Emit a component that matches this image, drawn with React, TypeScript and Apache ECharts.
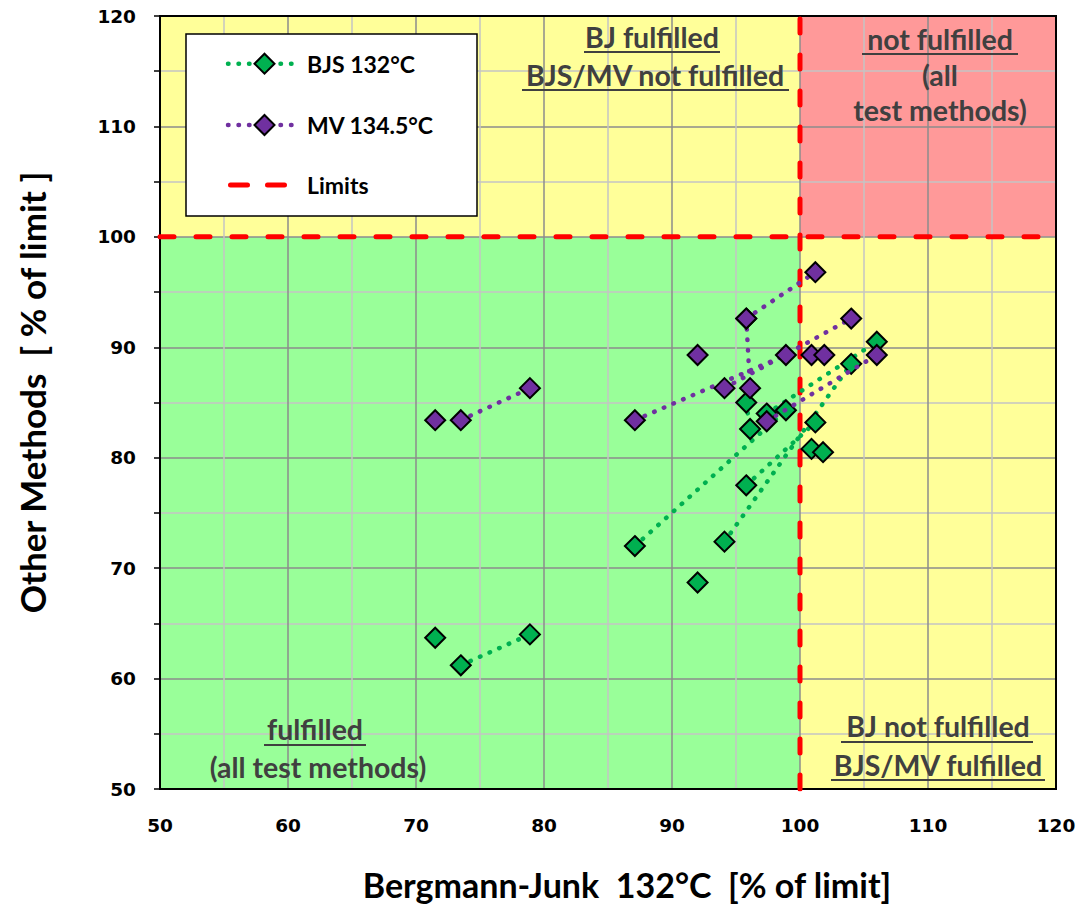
import React, { useEffect, useRef } from "react";
import * as echarts from "echarts";

// ---- data ----
const xRange = [50, 120];
const yRange = [50, 120];
const limitValue = 100;

// BJS 132°C: pairs of connected points (x = Bergmann-Junk, y = other method)
const bjsSegments: number[][][] = [
  [[71.5, 63.7]],
  [[73.5, 61.2], [78.9, 64.0]],
  [[87.1, 72.0], [98.9, 84.3]],
  [[92.0, 68.7]],
  [[94.1, 72.4], [104.0, 88.5]],
  [[95.8, 77.5], [101.2, 83.2]],
  [[95.8, 85.0], [96.1, 82.6]],
  [[97.4, 84.0], [106.0, 90.5]],
  [[100.9, 80.8]],
  [[101.8, 80.5]],
];

// MV 134.5°C
const mvSegments: number[][][] = [
  [[71.5, 83.4]],
  [[73.5, 83.4], [78.9, 86.3]],
  [[87.1, 83.4], [98.9, 89.3]],
  [[92.0, 89.3]],
  [[94.1, 86.3], [104.0, 92.6]],
  [[95.8, 92.6], [101.2, 96.8]],
  [[95.8, 92.6], [96.1, 86.3]],
  [[97.4, 83.3], [106.0, 89.3]],
  [[100.9, 89.3]],
  [[101.9, 89.3]],
];

const seriesNames = ["BJS 132°C", "MV 134.5°C", "Limits"];
const axisTitles = {
  x: "Bergmann-Junk  132°C  [% of limit]",
  y: "Other Methods  [ % of limit ]",
};

const GREEN = "#00B050";
const PURPLE = "#7030A0";
const RED = "#FF0000";

function flatten(segs: number[][][]) {
  const out: any[] = [];
  segs.forEach((s, i) => {
    if (i > 0) out.push(["-", "-"]);
    s.forEach((p) => out.push(p));
  });
  return out;
}

const labelFont = "Lato";
const tickFont = "DejaVu Sans";
const dotted = [0.5, 10];

export default function App() {
  const ref = useRef<HTMLDivElement>(null);
  useEffect(() => {
    if (!ref.current) return;
    const chart = echarts.init(ref.current, undefined, { renderer: "svg" });

    const regionText = (
      text: string,
      x: number,
      y: number,
      ul?: [number, number, number]
    ) => {
      const els: any[] = [
        {
          type: "text",
          x,
          y,
          z: 10,
          silent: true,
          style: {
            text,
            align: "center",
            verticalAlign: "middle",
            fontSize: 28.5,
            fontWeight: "bold",
            fontFamily: labelFont,
            fill: "#404040",
          },
        },
      ];
      if (ul) {
        els.push({
          type: "line",
          z: 10,
          silent: true,
          shape: { x1: ul[0], y1: ul[2], x2: ul[1], y2: ul[2] },
          style: { stroke: "#404040", lineWidth: 2.2 },
        });
      }
      return els;
    };

    // legend drawn manually
    const legendX = 186, legendY = 34, legendW = 291, legendH = 182;
    const rowsY = [63.7, 125, 185];
    const lineX1 = 228, lineX2 = 297, symX = 264.5, textX = 307;
    const diamond = (cx: number, cy: number, fill: string) => ({
      type: "polygon",
      z: 21,
      silent: true,
      shape: { points: [[cx, cy - 10], [cx + 10, cy], [cx, cy + 10], [cx - 10, cy]] },
      style: { fill, stroke: "#000", lineWidth: 2 },
    });
    const legendText = (t: string, y: number) => ({
      type: "text",
      x: textX,
      y,
      z: 21,
      silent: true,
      style: {
        text: t,
        align: "left",
        verticalAlign: "middle",
        fontSize: 23,
        fontWeight: "bold",
        fontFamily: labelFont,
        fill: "#000",
      },
    });
    const legendEls: any[] = [
      {
        type: "rect",
        z: 20,
        silent: true,
        shape: { x: legendX, y: legendY, width: legendW, height: legendH },
        style: { fill: "#fff", stroke: "#000", lineWidth: 1.5 },
      },
      {
        type: "line",
        z: 21,
        silent: true,
        shape: { x1: lineX1, y1: rowsY[0], x2: lineX2, y2: rowsY[0] },
        style: { stroke: GREEN, lineWidth: 4.5, lineDash: dotted, lineCap: "round" },
      },
      diamond(symX, rowsY[0], GREEN),
      legendText(seriesNames[0], rowsY[0]),
      {
        type: "line",
        z: 21,
        silent: true,
        shape: { x1: lineX1, y1: rowsY[1], x2: lineX2, y2: rowsY[1] },
        style: { stroke: PURPLE, lineWidth: 4.5, lineDash: dotted, lineCap: "round" },
      },
      diamond(symX, rowsY[1], PURPLE),
      legendText(seriesNames[1], rowsY[1]),
      {
        type: "line",
        z: 21,
        silent: true,
        shape: { x1: 230.5, y1: rowsY[2], x2: 284.5, y2: rowsY[2] },
        style: { stroke: RED, lineWidth: 5, lineDash: [17, 20], lineCap: "round" },
      },
      legendText(seriesNames[2], rowsY[2]),
    ];

    const graphic = [
      ...regionText("BJ fulfilled", 652, 37, [584, 720, 52]),
      ...regionText("BJS/MV not fulfilled", 655, 75, [522, 789, 90]),
      ...regionText("not fulfilled", 940, 39, [862, 1018, 54]),
      ...regionText("(all", 940, 75),
      ...regionText("test methods)", 940, 110),
      ...regionText("fulfilled", 315, 729, [264, 366, 745]),
      ...regionText("(all test methods)", 318, 767),
      ...regionText("BJ not fulfilled", 938, 726, [841, 1033, 742]),
      ...regionText("BJS/MV fulfilled", 938, 765, [831, 1045, 780]),
      ...legendEls,
    ];

    chart.setOption({
      animation: false,
      backgroundColor: "#ffffff",
      grid: {
        left: 160,
        top: 16,
        right: 23,
        bottom: 116,
        show: true,
        borderColor: "#000",
        borderWidth: 2,
        backgroundColor: "transparent",
        z: 3,
      },
      xAxis: {
        type: "value",
        min: xRange[0],
        max: xRange[1],
        interval: 10,
        z: 2,
        name: axisTitles.x,
        nameLocation: "middle",
        nameGap: 78,
        nameTextStyle: {
          fontSize: 34,
          fontWeight: "bold",
          fontFamily: labelFont,
          color: "#000",
          padding: [0, 0, 0, 38],
        },
        axisLine: { show: true, onZero: false, lineStyle: { color: "#000", width: 2 } },
        axisTick: { show: false },
        axisLabel: {
          fontSize: 18.5,
          fontWeight: "bold",
          fontFamily: tickFont,
          color: "#000",
          margin: 27,
        },
        splitLine: { show: true, lineStyle: { color: "#8c8c8c", width: 1.5 } },
        minorTick: { show: false, splitNumber: 2 },
        minorSplitLine: { show: true, lineStyle: { color: "#c4c4c4", width: 1.5 } },
      },
      yAxis: {
        type: "value",
        min: yRange[0],
        max: yRange[1],
        interval: 10,
        z: 2,
        name: axisTitles.y,
        nameLocation: "middle",
        nameGap: 111,
        nameTextStyle: {
          fontSize: 35,
          fontWeight: "bold",
          fontFamily: labelFont,
          color: "#000",
          padding: [0, 0, 0, 20],
        },
        axisLine: { show: true, onZero: false, lineStyle: { color: "#000", width: 2 } },
        axisTick: { show: true, length: 6, lineStyle: { color: "#000", width: 1.5 } },
        minorTick: { show: true, splitNumber: 2, length: 6, lineStyle: { color: "#000", width: 1.5 } },
        axisLabel: {
          fontSize: 18.5,
          fontWeight: "bold",
          fontFamily: tickFont,
          color: "#000",
          margin: 24,
        },
        splitLine: { show: true, lineStyle: { color: "#8c8c8c", width: 1.5 } },
        minorSplitLine: { show: true, lineStyle: { color: "#c4c4c4", width: 1.5 } },
      },
      graphic,
      series: [
        {
          type: "line",
          name: "__bg",
          data: [],
          z: 1,
          silent: true,
          markArea: {
            silent: true,
            data: [
              [
                { xAxis: xRange[0], yAxis: yRange[0], itemStyle: { color: "#99FF99" } },
                { xAxis: limitValue, yAxis: limitValue },
              ],
              [
                { xAxis: xRange[0], yAxis: limitValue, itemStyle: { color: "#FFFF99" } },
                { xAxis: limitValue, yAxis: yRange[1] },
              ],
              [
                { xAxis: limitValue, yAxis: yRange[0], itemStyle: { color: "#FFFF99" } },
                { xAxis: xRange[1], yAxis: limitValue },
              ],
              [
                { xAxis: limitValue, yAxis: limitValue, itemStyle: { color: "#FF9999" } },
                { xAxis: xRange[1], yAxis: yRange[1] },
              ],
            ],
          },
        },
        {
          type: "line",
          name: "Limits",
          data: [
            [xRange[0], limitValue],
            [xRange[1], limitValue],
            ["-", "-"],
            [limitValue, yRange[0]],
            [limitValue, yRange[1]],
          ],
          connectNulls: false,
          symbol: "none",
          silent: true,
          z: 4,
          lineStyle: { color: RED, width: 5, type: [14, 22], cap: "round" },
        },
        {
          type: "line",
          name: "BJS 132°C",
          data: flatten(bjsSegments),
          connectNulls: false,
          z: 5,
          symbol: "diamond",
          symbolSize: 20,
          showAllSymbol: true,
          lineStyle: { color: GREEN, width: 4.5, type: dotted, cap: "round" },
          itemStyle: { color: GREEN, borderColor: "#000", borderWidth: 2 },
        },
        {
          type: "line",
          name: "MV 134.5°C",
          data: flatten(mvSegments),
          connectNulls: false,
          z: 6,
          symbol: "diamond",
          symbolSize: 20,
          showAllSymbol: true,
          lineStyle: { color: PURPLE, width: 4.5, type: dotted, cap: "round" },
          itemStyle: { color: PURPLE, borderColor: "#000", borderWidth: 2 },
        },
      ],
    });
    return () => chart.dispose();
  }, []);
  return (
    <div
      ref={ref}
      style={{ position: "fixed", left: 0, top: 0, width: 1079, height: 906 }}
    />
  );
}
